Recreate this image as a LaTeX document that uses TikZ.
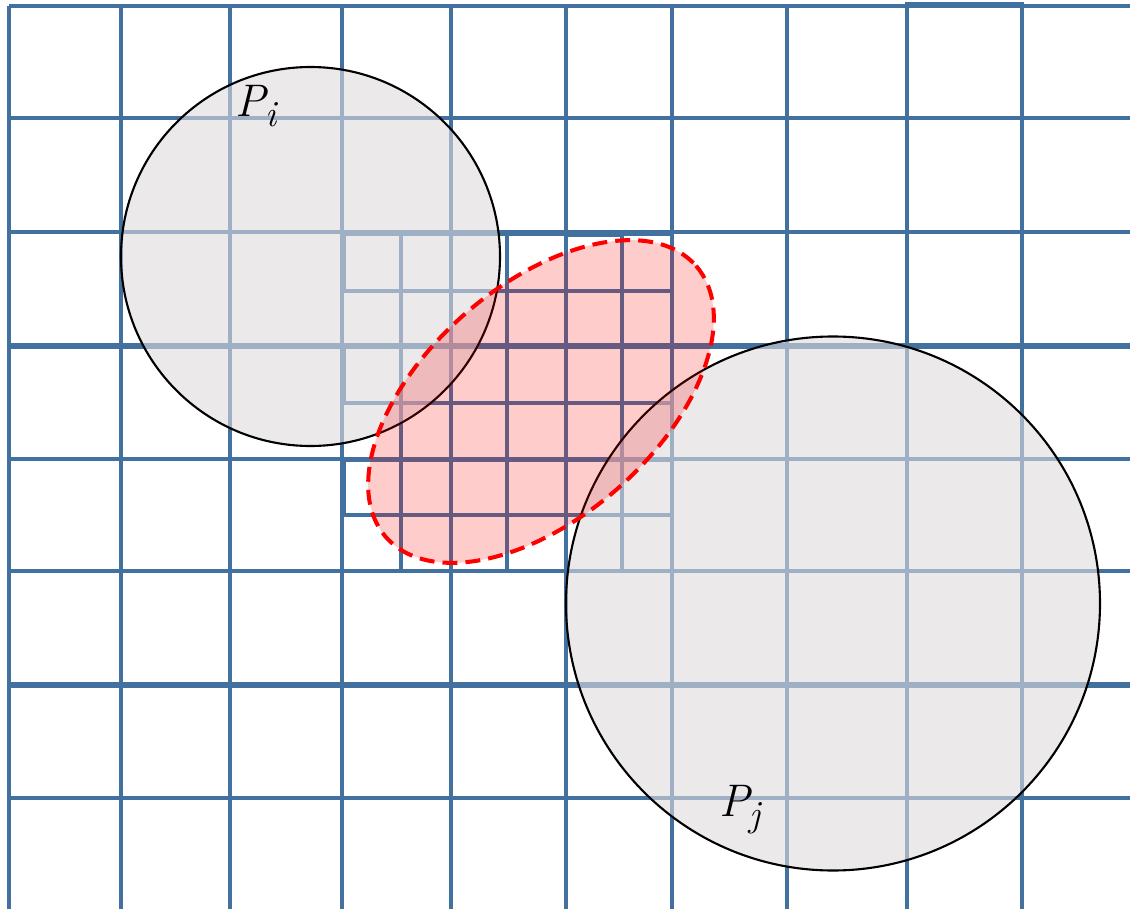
\documentclass[tikz,border=0pt]{standalone}
\usepackage{fontspec}
\definecolor{gridblue}{RGB}{66,113,160}
\definecolor{discgray}{RGB}{222,218,220}
\newcommand{\plab}[2]{\itshape #1\raisebox{-0.22em}{\fontsize{21}{22}\selectfont #2}}
\tikzset{
  gridline/.style={draw=gridblue,line width=2pt},
  disc/.style={fill=discgray,fill opacity=0.6,draw=black,line width=1.2pt},
  overlap/.style={fill=red,fill opacity=0.2,draw=red,line width=2.3pt,dash pattern=on 8.5pt off 4.6pt},
  plabel/.style={font=\fontsize{26}{30}\selectfont,inner sep=0pt}
}
\begin{document}
\begin{tikzpicture}[x=0.02cm,y=-0.02cm]
  \useasboundingbox (0,0) rectangle (1130,909);
  % coarse grid
  \draw[gridline] (9,6) -- (9,909) (121,6) -- (121,909) (230,6) -- (230,909)
    (342,6) -- (342,909) (451,6) -- (451,909) (566,6) -- (566,909)
    (672,6) -- (672,909) (787,6) -- (787,909) (907,6) -- (907,909) (1022,6) -- (1022,909);
  \draw[gridline] (9,6) -- (1130,6) (9,118) -- (1130,118) (9,232) -- (1130,232)
    (9,345) -- (1130,345) (9,347) -- (1130,347) (9,459) -- (1130,459)
    (9,571) -- (1130,571) (9,684) -- (1130,684) (9,686) -- (1130,686) (9,798) -- (1130,798);
  \draw[gridline] (907,4) rectangle (1022,118);
  % refined cells
  \draw[gridline] (401,232) -- (401,571) (507,232) -- (507,571) (622,235) -- (622,571);
  \draw[gridline] (344,234) rectangle (672,291) (344,347) rectangle (672,403)
    (344,460) rectangle (672,515) (566,235) -- (622,235);
  % the two particles
  \draw[disc] (310.5,256.5) circle (189.5);
  \draw[disc] (833,603.5) circle (267);
  % overlap region
  \draw[overlap] (541,401.5) ellipse [x radius=206,y radius=116,rotate=41.2];
  % labels
  \node[plabel] (pi) at (256,106) {\plab{P}{i}};
  \node[plabel] (pj) at (740,810) {\plab{P}{j}};
\end{tikzpicture}
\end{document}
